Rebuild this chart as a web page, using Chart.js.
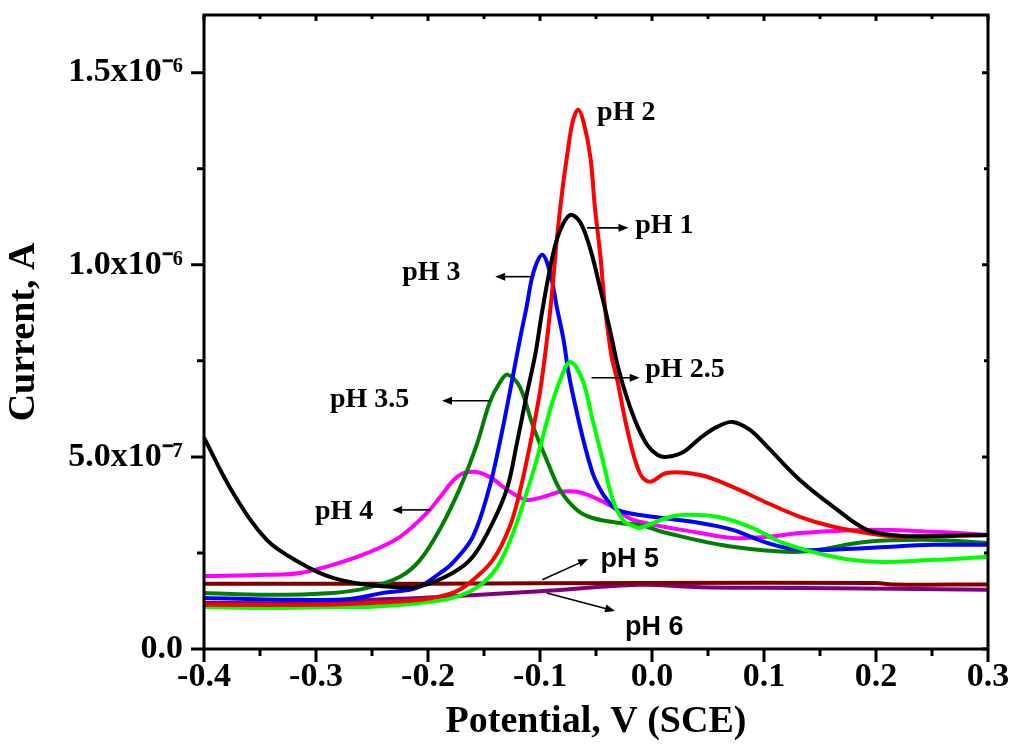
<!DOCTYPE html>
<html lang="en">
<head>
<meta charset="UTF-8">
<title>Current vs Potential at different pH</title>
<script src="https://cdn.jsdelivr.net/npm/chart.js"></script>
<style>
  html, body { margin: 0; padding: 0; background: #fff; }
  #wrap { width: 1011px; height: 749px; }
</style>
</head>
<body>
<div id="wrap"><canvas id="cvChart"></canvas></div>
<script>
// potential in V (SCE), current in units of 1e-7 A
const potential_pH1 = [-0.4, -0.374, -0.344, -0.314, -0.285, -0.254, -0.225, -0.207, -0.178, -0.16, -0.142, -0.129, -0.121, -0.112, -0.104, -0.098, -0.089, -0.082, -0.073, -0.064, -0.055, -0.046, -0.0375, -0.03, -0.022, -0.013, -0.004, 0.005, 0.013, 0.028, 0.043, 0.058, 0.072, 0.0875, 0.103, 0.132, 0.162, 0.192, 0.221, 0.251, 0.3];
const current_pH1 = [5.5, 4.06, 2.84, 2.24, 1.85, 1.67, 1.61, 1.63, 1.98, 2.4, 3.3, 4.22, 5.3, 6.6, 7.7, 8.8, 10.2, 10.9, 11.3, 11.1, 10.4, 9.35, 8.3, 7.3, 6.5, 5.8, 5.3, 5.05, 5.0, 5.13, 5.49, 5.78, 5.91, 5.7, 5.26, 4.4, 3.7, 3.1, 2.95, 2.94, 2.97];

const potential_pH2 = [-0.4, -0.3, -0.25, -0.207, -0.178, -0.163, -0.142, -0.127, -0.118, -0.109, -0.1, -0.094, -0.089, -0.085, -0.08, -0.076, -0.071, -0.066, -0.061, -0.055, -0.051, -0.046, -0.042, -0.036, -0.031, -0.022, -0.011, -0.002, 0.013, 0.043, 0.072, 0.103, 0.132, 0.162, 0.192, 0.221, 0.3];
const current_pH2 = [1.15, 1.15, 1.2, 1.28, 1.46, 1.72, 2.32, 3.18, 4.1, 5.3, 6.7, 8.0, 9.35, 10.65, 11.95, 12.8, 13.7, 14.04, 13.7, 12.8, 11.5, 10.2, 8.9, 7.6, 7.0, 5.7, 4.58, 4.35, 4.58, 4.53, 4.22, 3.8, 3.44, 3.18, 3.02, 2.92, 2.97];

const potential_pH25 = [-0.4, -0.344, -0.285, -0.25, -0.207, -0.178, -0.156, -0.138, -0.124, -0.112, -0.103, -0.091, -0.082, -0.073, -0.062, -0.053, -0.044, -0.035, -0.026, -0.017, -0.011, 0.013, 0.028, 0.058, 0.0875, 0.117, 0.162, 0.2, 0.251, 0.3];
const current_pH25 = [1.09, 1.07, 1.09, 1.1, 1.2, 1.33, 1.61, 2.14, 3.02, 4.06, 4.92, 6.22, 7.0, 7.47, 7.0, 5.96, 4.92, 3.88, 3.36, 3.2, 3.15, 3.41, 3.49, 3.44, 3.18, 2.76, 2.4, 2.27, 2.32, 2.4];

const potential_pH3 = [-0.4, -0.314, -0.27, -0.24, -0.21, -0.189, -0.178, -0.16, -0.145, -0.136, -0.127, -0.118, -0.112, -0.106, -0.098, -0.091, -0.085, -0.079, -0.075, -0.071, -0.062, -0.053, -0.046, -0.04, -0.031, -0.011, 0.043, 0.072, 0.103, 0.132, 0.192, 0.251, 0.3];
const current_pH3 = [1.33, 1.28, 1.3, 1.46, 1.59, 1.98, 2.24, 2.92, 4.22, 5.36, 6.67, 8.05, 8.9, 9.79, 10.26, 9.79, 8.9, 8.05, 7.27, 6.67, 5.52, 4.58, 4.14, 3.88, 3.62, 3.49, 3.28, 3.1, 2.76, 2.58, 2.63, 2.71, 2.71];

const potential_pH35 = [-0.4, -0.344, -0.285, -0.254, -0.225, -0.207, -0.189, -0.171, -0.156, -0.145, -0.136, -0.129, -0.118, -0.106, -0.094, -0.082, -0.067, -0.053, -0.029, -0.011, 0.013, 0.072, 0.132, 0.192, 0.251, 0.3];
const current_pH35 = [1.46, 1.41, 1.46, 1.59, 1.88, 2.32, 3.14, 4.22, 5.36, 6.41, 6.93, 7.14, 6.82, 5.78, 4.92, 4.14, 3.62, 3.41, 3.28, 3.23, 3.02, 2.66, 2.53, 2.79, 2.84, 2.76];

const potential_pH4 = [-0.4, -0.344, -0.314, -0.285, -0.254, -0.225, -0.201, -0.189, -0.174, -0.16, -0.145, -0.129, -0.112, -0.097, -0.082, -0.067, -0.053, -0.035, -0.017, 0.043, 0.072, 0.103, 0.132, 0.192, 0.251, 0.3];
const current_pH4 = [1.9, 1.93, 1.98, 2.19, 2.5, 2.92, 3.54, 3.96, 4.48, 4.61, 4.48, 4.14, 3.88, 3.96, 4.09, 4.09, 3.96, 3.7, 3.36, 3.02, 2.89, 2.92, 3.02, 3.1, 3.05, 2.97];

const potential_pH5 = [-0.4, -0.2, 0.0, 0.2, 0.215, 0.3];
const current_pH5 = [1.7, 1.7, 1.72, 1.72, 1.68, 1.68];

const potential_pH6 = [-0.4, -0.314, -0.254, -0.207, -0.1, -0.011, 0.043, 0.132, 0.3];
const current_pH6 = [1.2, 1.2, 1.28, 1.33, 1.5, 1.67, 1.61, 1.59, 1.54];

const seriesNames = ['pH 1', 'pH 2', 'pH 2.5', 'pH 3', 'pH 3.5', 'pH 4', 'pH 5', 'pH 6'];
const seriesColors = ['#000000', '#ff0000', '#00ff00', '#0000ff', '#008000', '#ff00ff', '#800000', '#800080'];
const seriesX = [potential_pH1, potential_pH2, potential_pH25, potential_pH3, potential_pH35, potential_pH4, potential_pH5, potential_pH6];
const seriesY = [current_pH1, current_pH2, current_pH25, current_pH3, current_pH35, current_pH4, current_pH5, current_pH6];

// curve labels: text position and arrow (from -> to), in data units
const labelText = ['pH 2', 'pH 1', 'pH 3', 'pH 2.5', 'pH 3.5', 'pH 4', 'pH 5', 'pH 6'];
const labelPos = [[-0.049, 13.78], [-0.015, 10.83], [-0.223, 9.61], [-0.006, 7.08], [-0.2875, 6.3], [-0.301, 3.39], [-0.046, 2.14], [-0.024, 0.36]];
const labelArrow = [null, [-0.058, 10.96, -0.021, 10.96], [-0.107, 9.69, -0.14, 9.69], [-0.054, 7.06, -0.011, 7.06], [-0.145, 6.46, -0.1875, 6.46], [-0.198, 3.62, -0.232, 3.62], [-0.098, 1.8, -0.057, 2.34], [-0.094, 1.46, -0.033, 0.99]];
const labelSans = [false, false, false, false, false, false, true, true];

const serif = "'Liberation Serif', 'Times New Roman', serif";
const sans = "'Liberation Sans', Arial, sans-serif";

const datasets = seriesNames.map((name, i) => ({
  label: name,
  data: seriesX[i].map((x, j) => ({ x: x, y: seriesY[i][j] })),
  borderColor: seriesColors[i],
  backgroundColor: seriesColors[i],
  borderWidth: 4,
  pointRadius: 0,
  showLine: true,
  tension: 0.35
}));

function drawArrow(ctx, x1, y1, x2, y2) {
  const ang = Math.atan2(y2 - y1, x2 - x1);
  const len = 10, half = 4;
  ctx.beginPath();
  ctx.moveTo(x1, y1);
  ctx.lineTo(x2 - Math.cos(ang) * len * 0.8, y2 - Math.sin(ang) * len * 0.8);
  ctx.stroke();
  ctx.beginPath();
  ctx.moveTo(x2, y2);
  ctx.lineTo(x2 - Math.cos(ang) * len - Math.sin(ang) * half, y2 - Math.sin(ang) * len + Math.cos(ang) * half);
  ctx.lineTo(x2 - Math.cos(ang) * len + Math.sin(ang) * half, y2 - Math.sin(ang) * len - Math.cos(ang) * half);
  ctx.closePath();
  ctx.fill();
}

const framePlugin = {
  id: 'frame',
  afterDatasetsDraw(chart) {
    const { ctx, chartArea: a, scales: { x, y } } = chart;
    ctx.save();
    ctx.strokeStyle = '#000';
    ctx.fillStyle = '#000';
    ctx.lineWidth = 3;
    ctx.strokeRect(a.left, a.top, a.right - a.left, a.bottom - a.top);

    // major and minor ticks: out on bottom/left, in on top/right
    const xMaj = x.ticks.map(t => t.value);
    const yMaj = y.ticks.map(t => t.value);
    const xMin = [], yMin = [];
    for (let i = 0; i < xMaj.length - 1; i++) xMin.push((xMaj[i] + xMaj[i + 1]) / 2);
    for (let i = 0; i < yMaj.length; i++) {
      const m = yMaj[i] + (yMaj[1] - yMaj[0]) / 2;
      if (m < y.max) yMin.push(m);
    }
    ctx.beginPath();
    xMaj.forEach(v => {
      const px = x.getPixelForValue(v);
      ctx.moveTo(px, a.bottom); ctx.lineTo(px, a.bottom + 13);
      ctx.moveTo(px, a.top); ctx.lineTo(px, a.top + 6);
    });
    xMin.forEach(v => {
      const px = x.getPixelForValue(v);
      ctx.moveTo(px, a.bottom); ctx.lineTo(px, a.bottom + 7);
      ctx.moveTo(px, a.top); ctx.lineTo(px, a.top + 4);
    });
    yMaj.forEach(v => {
      const py = y.getPixelForValue(v);
      ctx.moveTo(a.left, py); ctx.lineTo(a.left - 13, py);
      ctx.moveTo(a.right, py); ctx.lineTo(a.right - 6, py);
    });
    yMin.forEach(v => {
      const py = y.getPixelForValue(v);
      ctx.moveTo(a.left, py); ctx.lineTo(a.left - 7, py);
      ctx.moveTo(a.right, py); ctx.lineTo(a.right - 4, py);
    });
    ctx.stroke();

    // curve labels with arrows
    ctx.lineWidth = 1.6;
    ctx.textAlign = 'left';
    ctx.textBaseline = 'alphabetic';
    labelText.forEach((txt, i) => {
      ctx.font = labelSans[i] ? 'bold 27px ' + sans : 'bold 28px ' + serif;
      ctx.fillText(txt, x.getPixelForValue(labelPos[i][0]), y.getPixelForValue(labelPos[i][1]));
      const ar = labelArrow[i];
      if (ar) {
        drawArrow(ctx, x.getPixelForValue(ar[0]), y.getPixelForValue(ar[1]),
          x.getPixelForValue(ar[2]), y.getPixelForValue(ar[3]));
      }
    });
    ctx.restore();
  }
};

function yLabel(v) {
  const r = Math.round(v * 10) / 10;
  if (r === 0) return '0.0';
  if (r < 10) return r.toFixed(1) + 'x10\u207B\u2077';
  return (r / 10).toFixed(1) + 'x10\u207B\u2076';
}

new Chart(document.getElementById('cvChart'), {
  type: 'scatter',
  data: { datasets: datasets },
  plugins: [framePlugin],
  options: {
    responsive: true,
    maintainAspectRatio: false,
    animation: false,
    layout: { padding: { left: 0, right: 23, top: 15, bottom: 0 } },
    plugins: {
      legend: { display: false },
      tooltip: { enabled: false }
    },
    scales: {
      x: {
        type: 'linear',
        min: -0.4,
        max: 0.3,
        grid: { display: false, drawTicks: false },
        border: { display: false },
        ticks: {
          stepSize: 0.1,
          includeBounds: false,
          padding: 8,
          color: '#000',
          font: { family: serif, size: 34, weight: 'bold' },
          maxRotation: 0,
          callback: v => (Math.abs(v) < 1e-9 ? 0 : v).toFixed(1)
        },
        title: {
          display: true,
          text: 'Potential, V (SCE)',
          color: '#000',
          font: { family: serif, size: 38, weight: 'bold' },
          padding: { top: 0, bottom: 4 }
        },
        afterFit: s => { s.height = 100; s.paddingLeft = 0; s.paddingRight = 0; }
      },
      y: {
        type: 'linear',
        min: 0,
        max: 16.5,
        grid: { display: false, drawTicks: false },
        border: { display: false },
        ticks: {
          stepSize: 5,
          includeBounds: false,
          padding: 21,
          color: '#000',
          font: { family: serif, size: 34, weight: 'bold' },
          callback: yLabel
        },
        title: {
          display: true,
          text: 'Current, A',
          color: '#000',
          font: { family: serif, size: 38, weight: 'bold' },
          padding: { top: 1, bottom: 0 }
        },
        afterFit: s => { s.width = 204; s.paddingTop = 0; s.paddingBottom = 0; }
      }
    }
  }
});
</script>
</body>
</html>
